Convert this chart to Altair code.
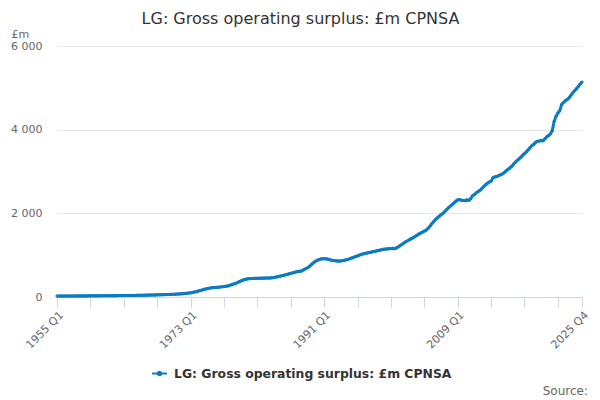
import altair as alt
import pandas as pd

SERIES = "LG: Gross operating surplus: £m CPNSA"

years = list(range(1955, 2026))
values = [
    21, 21, 22, 22,        # 1955
    22, 23, 23, 23,        # 1956
    24, 24, 24, 25,        # 1957
    25, 25, 26, 26,        # 1958
    26, 27, 27, 27,        # 1959
    27, 28, 28, 28,        # 1960
    29, 29, 29, 30,        # 1961
    30, 31, 31, 32,        # 1962
    32, 33, 33, 34,        # 1963
    34, 35, 35, 36,        # 1964
    37, 37, 38, 39,        # 1965
    40, 41, 42, 43,        # 1966
    44, 45, 46, 47,        # 1967
    48, 49, 51, 52,        # 1968
    54, 55, 57, 58,        # 1969
    60, 62, 64, 66,        # 1970
    68, 71, 74, 77,        # 1971
    80, 85, 90, 95,        # 1972
    100, 108, 118, 128,    # 1973
    140, 152, 165, 178,    # 1974
    190, 200, 210, 218,    # 1975
    225, 229, 232, 236,    # 1976
    240, 245, 251, 258,    # 1977
    265, 278, 292, 306,    # 1978
    320, 340, 360, 380,    # 1979
    400, 415, 427, 435,    # 1980
    440, 443, 445, 446,    # 1981
    448, 449, 450, 451,    # 1982
    452, 453, 455, 457,    # 1983
    460, 467, 476, 485,    # 1984
    495, 506, 517, 528,    # 1985
    540, 552, 565, 578,    # 1986
    590, 600, 609, 617,    # 1987
    625, 650, 675, 700,    # 1988
    730, 770, 810, 845,    # 1989
    870, 890, 905, 912,    # 1990
    915, 912, 905, 893,    # 1991
    880, 873, 867, 863,    # 1992
    860, 862, 870, 880,    # 1993
    890, 903, 918, 934,    # 1994
    950, 968, 985, 1002,   # 1995
    1020, 1030, 1040, 1050,  # 1996
    1060, 1070, 1080, 1090,  # 1997
    1100, 1110, 1120, 1130,  # 1998
    1140, 1145, 1150, 1155,  # 1999
    1160, 1165, 1155, 1175,  # 2000
    1200, 1230, 1260, 1290,  # 2001
    1320, 1345, 1370, 1395,  # 2002
    1420, 1448, 1475, 1503,  # 2003
    1530, 1550, 1575, 1600,  # 2004
    1640, 1690, 1750, 1800,  # 2005
    1850, 1890, 1930, 1965,  # 2006
    2000, 2040, 2090, 2130,  # 2007
    2170, 2210, 2250, 2290,  # 2008
    2320, 2330, 2315, 2310,  # 2009
    2300, 2320, 2310, 2350,  # 2010
    2420, 2450, 2490, 2520,  # 2011
    2550, 2590, 2640, 2680,  # 2012
    2720, 2750, 2770, 2850,  # 2013
    2870, 2880, 2900, 2920,  # 2014
    2940, 2970, 3010, 3050,  # 2015
    3080, 3120, 3170, 3220,  # 2016
    3260, 3300, 3340, 3390,  # 2017
    3430, 3470, 3520, 3570,  # 2018
    3620, 3650, 3700, 3720,  # 2019
    3730, 3740, 3735, 3780,  # 2020
    3830, 3860, 3900, 3980,  # 2021
    4200, 4320, 4400, 4450,  # 2022
    4600, 4650, 4690, 4720,  # 2023
    4760, 4820, 4880, 4930,  # 2024
    4980, 5030, 5090, 5140,  # 2025
]

periods = [f"{y} Q{q}" for y in years for q in range(1, 5)]
shown_labels = ["1955 Q1", "1973 Q1", "1991 Q1", "2009 Q1", "2025 Q4"]
tick_periods = periods[::18] + [periods[-1]]
y_ticks = [0, 2000, 4000, 6000]

df = pd.DataFrame({"period": periods, "value": values, "series": SERIES})

COLOR = "#0a7cc4"
FONT = "DejaVu Sans"

label_expr = "indexof(" + str(shown_labels) + ", datum.value) >= 0 ? datum.value : ''"

base = alt.Chart(df).encode(
    x=alt.X(
        "period:O",
        sort=periods,
        scale=alt.Scale(type="point", padding=0),
        axis=alt.Axis(
            title=None,
            values=tick_periods,
            labelExpr=label_expr,
            labelAngle=-45,
            labelFontSize=11,
            labelColor="#666666",
            labelFont=FONT,
            domainColor="#ccd6eb",
            tickColor="#ccd6eb",
            tickSize=10,
            labelPadding=2,
            grid=False,
        ),
    ),
    y=alt.Y(
        "value:Q",
        scale=alt.Scale(domain=[0, 6000]),
        axis=alt.Axis(
            title="£m",
            titleAngle=0,
            titleAlign="left",
            titleBaseline="alphabetic",
            titleX=-46,
            titleY=-9,
            titleFont=FONT,
            titleFontSize=11,
            titleFontWeight="normal",
            titleColor="#666666",
            values=y_ticks,
            labelExpr="replace(format(datum.value, ','), ',', ' ')",
            labelFontSize=11,
            labelColor="#666666",
            labelFont=FONT,
            labelPadding=15,
            ticks=False,
            domain=False,
            grid=True,
            gridColor="#e6e6e6",
        ),
    ),
    color=alt.Color(
        "series:N",
        scale=alt.Scale(range=[COLOR]),
        legend=alt.Legend(
            title=None,
            orient="none",
            legendX=94,
            legendY=319,
            labelFont=FONT,
            labelFontSize=12.4,
            labelFontWeight="bold",
            labelColor="#333333",
            labelLimit=500,
            symbolType="M-1,0L1,0M-0.22,0A0.22,0.22,0,1,1,0.22,0A0.22,0.22,0,1,1,-0.22,0Z",
            symbolSize=220,
            symbolStrokeWidth=2,
            symbolFillColor=COLOR,
            labelOffset=6,
            padding=0,
        ),
    ),
)

line = base.mark_line(strokeWidth=3, point=alt.OverlayMarkDef(size=10, filled=True, color=COLOR))

source = alt.Chart(pd.DataFrame({"t": ["Source:"]})).mark_text(
    align="right", baseline="alphabetic", font=FONT, fontSize=12, color="#666666"
).encode(text="t:N", x=alt.value(531), y=alt.value(349))

chart = alt.layer(line, source).properties(
    width=525,
    height=251,
    autosize=alt.AutoSizeParams(type="none"),
    padding={"left": 49, "top": 38, "right": 10, "bottom": 100},
    title=alt.TitleParams(
        text="LG: Gross operating surplus: £m CPNSA",
        font=FONT,
        fontSize=16,
        fontWeight="normal",
        color="#333333",
        anchor="middle",
        dx=-19,
        dy=3,
    ),
).configure_view(stroke=None)

chart.save("out.html", embed_options={"renderer": "svg", "actions": False})
